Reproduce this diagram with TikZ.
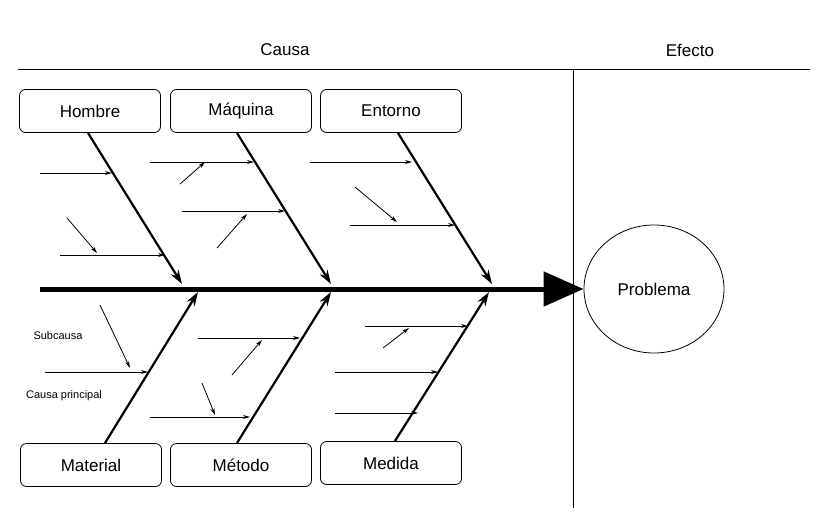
\documentclass[tikz,border=0pt]{standalone}
\usepackage{fontspec}
\setmainfont{Liberation Sans}
\usetikzlibrary{arrows.meta,shapes.geometric}
\begin{document}
\begin{tikzpicture}[x=1pt,y=-1pt,
 box/.style={draw,rounded corners=6pt,minimum width=141pt,minimum height=43pt,font=\fontsize{17}{20}\selectfont,line width=0.8pt},
 bone/.style={line width=2.2pt,-{Stealth[length=14pt,width=9pt]}},
 sub/.style={line width=0.8pt,-{Stealth[length=7pt,width=4pt]}},
 lab/.style={font=\fontsize{11}{13}\selectfont}]
\useasboundingbox (0,0) rectangle (820,520);
\draw[line width=0.8pt] (18,69) -- (810,69);
\draw[line width=0.8pt] (573,69) -- (573,508);
\node[font=\fontsize{17}{20}\selectfont] (causa) at (285,50) {Causa};
\node[font=\fontsize{17}{20}\selectfont] (efecto) at (690,50) {Efecto};
\node[draw,ellipse,line width=0.8pt,minimum width=140pt,minimum height=128pt,font=\fontsize{17}{20}\selectfont] (p) at (654,289) {Problema};
\coordinate (s) at (40,289);
\draw[line width=5pt,-{Triangle[length=40pt,width=34pt]}] (s) -- (p.west);
\node[box] (h) at (90,111) {Hombre};
\node[box] (m) at (241,111) {Máquina};
\node[box] (e) at (391,111) {Entorno};
\node[box] (ma) at (91,465) {Material};
\node[box] (me) at (241,465) {Método};
\node[box] (md) at (391,463) {Medida};
\foreach \xa/\ya/\xb/\yb in {88/133/182/284, 237/133/331/284, 398/133/492/284,
 105/443/198/292, 237/443/331/292, 395/441/489/292}
 {\draw[bone] (\xa,\ya) -- (\xb,\yb);}
\foreach \xa/\ya/\xb/\yb in {40/173/112/173, 67/218/97/253, 60/255/165/255,
 150/162/254/162, 180/184/205/162, 182/211/285/211, 217/248/247/214,
 310/162/412/162, 355/187/397/222, 350/225/455/225,
 100/305/130/368, 45/372/148/372,
 198/338/300/338, 232/375/262/340, 202/383/215/415, 150/417/250/417,
 365/326/468/326, 383/348/409/328, 335/372/438/372, 335/413/418/413}
 {\draw[sub] (\xa,\ya) -- (\xb,\yb);}
\node[lab] (sc) at (58,336) {Subcausa};
\node[lab] (cp) at (64,396) {Causa principal};
\end{tikzpicture}
\end{document}
